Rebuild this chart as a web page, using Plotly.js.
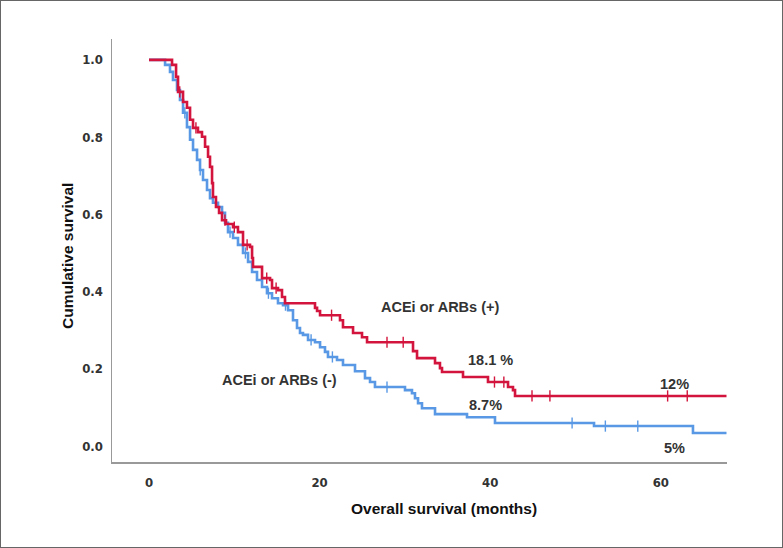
<!DOCTYPE html>
<html>
<head>
<meta charset="utf-8">
<script src="https://cdn.plot.ly/plotly-3.0.1.min.js"></script>
<style>
  html, body { margin: 0; padding: 0; background: #fff; }
  #wrap { position: relative; width: 783px; height: 548px; }
  #chart { width: 783px; height: 548px; }
  #frame { position: absolute; left: 0; top: 0; right: 0; bottom: 0; border: 1px solid #666; pointer-events: none; }
</style>
</head>
<body>
<div id="wrap"><div id="chart"></div><div id="frame"></div></div>
<script>
// ACEi or ARBs (+) : step times (months) and survival after each step
const redTimes = [0, 2.70, 3.17, 3.40, 3.99, 4.45, 4.81, 5.16, 5.74, 6.21, 6.57, 6.92, 7.15, 7.39, 7.50, 7.85, 8.21, 8.56, 9.03, 9.85, 10.43, 11.02, 11.84, 12.08, 12.19, 13.25, 14.19, 14.42, 15.12, 15.59, 15.94, 19.46, 19.70, 20.05, 22.39, 22.74, 23.92, 24.97, 25.56, 30.95, 31.42, 33.53, 34.11, 34.35, 36.81, 39.74, 42.09, 42.67, 42.91, 67.7];
const redSurv  = [1.0, 0.987, 0.956, 0.917, 0.891, 0.876, 0.845, 0.824, 0.813, 0.801, 0.775, 0.749, 0.723, 0.681, 0.645, 0.619, 0.604, 0.585, 0.575, 0.567, 0.554, 0.521, 0.516, 0.487, 0.464, 0.435, 0.430, 0.409, 0.404, 0.386, 0.370, 0.358, 0.350, 0.339, 0.326, 0.308, 0.293, 0.282, 0.269, 0.246, 0.228, 0.215, 0.202, 0.192, 0.179, 0.166, 0.153, 0.145, 0.130, 0.130];
const redCensor = [3.6, 5.5, 8.9, 10.0, 11.5, 13.8, 14.9, 21.4, 27.9, 29.8, 40.5, 41.6, 44.9, 47.0, 60.8, 63.1];

// ACEi or ARBs (-)
const blueTimes = [0, 1.88, 2.46, 2.81, 3.28, 3.63, 3.99, 4.45, 4.81, 5.16, 5.63, 5.98, 6.33, 6.80, 7.15, 7.50, 8.09, 8.56, 8.91, 9.26, 9.85, 10.43, 11.02, 11.61, 12.08, 12.66, 13.25, 13.83, 14.42, 15.12, 15.71, 16.30, 16.88, 17.35, 17.70, 18.05, 18.64, 19.46, 20.05, 20.63, 20.98, 22.04, 22.74, 24.15, 25.32, 25.91, 26.49, 30.01, 30.83, 31.18, 31.54, 32.0, 33.53, 37.28, 40.56, 52.17, 63.77, 67.7];
const blueSurv  = [1.0, 0.987, 0.969, 0.948, 0.922, 0.896, 0.863, 0.826, 0.793, 0.767, 0.741, 0.715, 0.689, 0.663, 0.642, 0.630, 0.619, 0.604, 0.578, 0.554, 0.539, 0.521, 0.500, 0.477, 0.451, 0.430, 0.412, 0.396, 0.383, 0.370, 0.365, 0.352, 0.326, 0.306, 0.293, 0.288, 0.275, 0.269, 0.256, 0.244, 0.231, 0.223, 0.210, 0.194, 0.176, 0.166, 0.153, 0.145, 0.137, 0.124, 0.111, 0.098, 0.083, 0.075, 0.060, 0.052, 0.034, 0.034];
const blueCensor = [4.2, 6.0, 9.5, 11.3, 14.0, 16.0, 19.0, 21.5, 27.9, 49.6, 53.5, 57.3];

const xTickVals = [0, 20, 40, 60];
const yTickVals = [0.0, 0.2, 0.4, 0.6, 0.8, 1.0];
const yTickText = ['0.0', '0.2', '0.4', '0.6', '0.8', '1.0'];

const xTitle = 'Overall survival (months)';
const yTitle = 'Cumulative survival';
const labelTexts = ['ACEi or ARBs (+)', 'ACEi or ARBs (-)', '18.1 %', '8.7%', '12%', '5%'];

const RED = '#D3143C';
const BLUE = '#5898E4';

function stepAt(times, surv, t) {
  let v = surv[0];
  for (let i = 0; i < times.length; i++) { if (times[i] <= t) v = surv[i]; }
  return v;
}

const traces = [
  { x: blueTimes, y: blueSurv, mode: 'lines', line: { shape: 'hv', color: BLUE, width: 2.6 }, hoverinfo: 'skip', showlegend: false },
  { x: blueCensor, y: blueCensor.map(t => stepAt(blueTimes, blueSurv, t)), mode: 'markers',
    marker: { symbol: 'line-ns-open', size: 8, color: BLUE, line: { color: BLUE, width: 1.4 } }, hoverinfo: 'skip', showlegend: false },
  { x: redTimes, y: redSurv, mode: 'lines', line: { shape: 'hv', color: RED, width: 2.6 }, hoverinfo: 'skip', showlegend: false },
  { x: redCensor, y: redCensor.map(t => stepAt(redTimes, redSurv, t)), mode: 'markers',
    marker: { symbol: 'line-ns-open', size: 8, color: RED, line: { color: RED, width: 1.4 } }, hoverinfo: 'skip', showlegend: false }
];

const tickFont = { family: 'Liberation Sans Narrow, DejaVu Sans Condensed, Arial Narrow, sans-serif', size: 13, color: '#333', weight: 'bold' };
const annFont = { family: 'Liberation Sans, Arial, sans-serif', size: 14.5, color: '#333', weight: 'bold' };
const titleFont = { family: 'Liberation Sans, Arial, sans-serif', size: 15.5, color: '#111', weight: 'bold' };

const dataAnn = [
  { x: 34.1, y: 0.361, text: labelTexts[0] },
  { x: 15.3, y: 0.171, text: labelTexts[1] },
  { x: 40.0, y: 0.223, text: labelTexts[2] },
  { x: 39.5, y: 0.106, text: labelTexts[3] },
  { x: 61.6, y: 0.160, text: labelTexts[4] },
  { x: 61.6, y: -0.005, text: labelTexts[5] }
].map(a => Object.assign({ xref: 'x', yref: 'y', showarrow: false, font: annFont }, a));

const titleAnn = [
  { xref: 'paper', yref: 'paper', x: 0.540, y: -0.111, xanchor: 'center', yanchor: 'middle', text: xTitle, showarrow: false, font: titleFont },
  { xref: 'paper', yref: 'paper', x: -0.0715, y: 0.487, xanchor: 'center', yanchor: 'middle', text: yTitle, textangle: -90, showarrow: false, font: titleFont }
];

const layout = {
  width: 783, height: 548,
  margin: { l: 112, r: 56, t: 39, b: 86 },
  paper_bgcolor: '#fff', plot_bgcolor: '#fff',
  xaxis: {
    range: [-4.34, 67.76], tickvals: xTickVals, ticks: '', showgrid: false, zeroline: false,
    showline: true, linecolor: '#999', linewidth: 1.5, tickfont: tickFont, ticklabelstandoff: 8
  },
  yaxis: {
    range: [-0.041, 1.054], tickvals: yTickVals, ticktext: yTickText, ticks: '', showgrid: false, zeroline: false,
    showline: true, linecolor: '#999', linewidth: 1.5, tickfont: tickFont, ticklabelstandoff: 5
  },
  annotations: dataAnn.concat(titleAnn)
};

Plotly.newPlot('chart', traces, layout, { displayModeBar: false, staticPlot: true });
</script>
</body>
</html>
